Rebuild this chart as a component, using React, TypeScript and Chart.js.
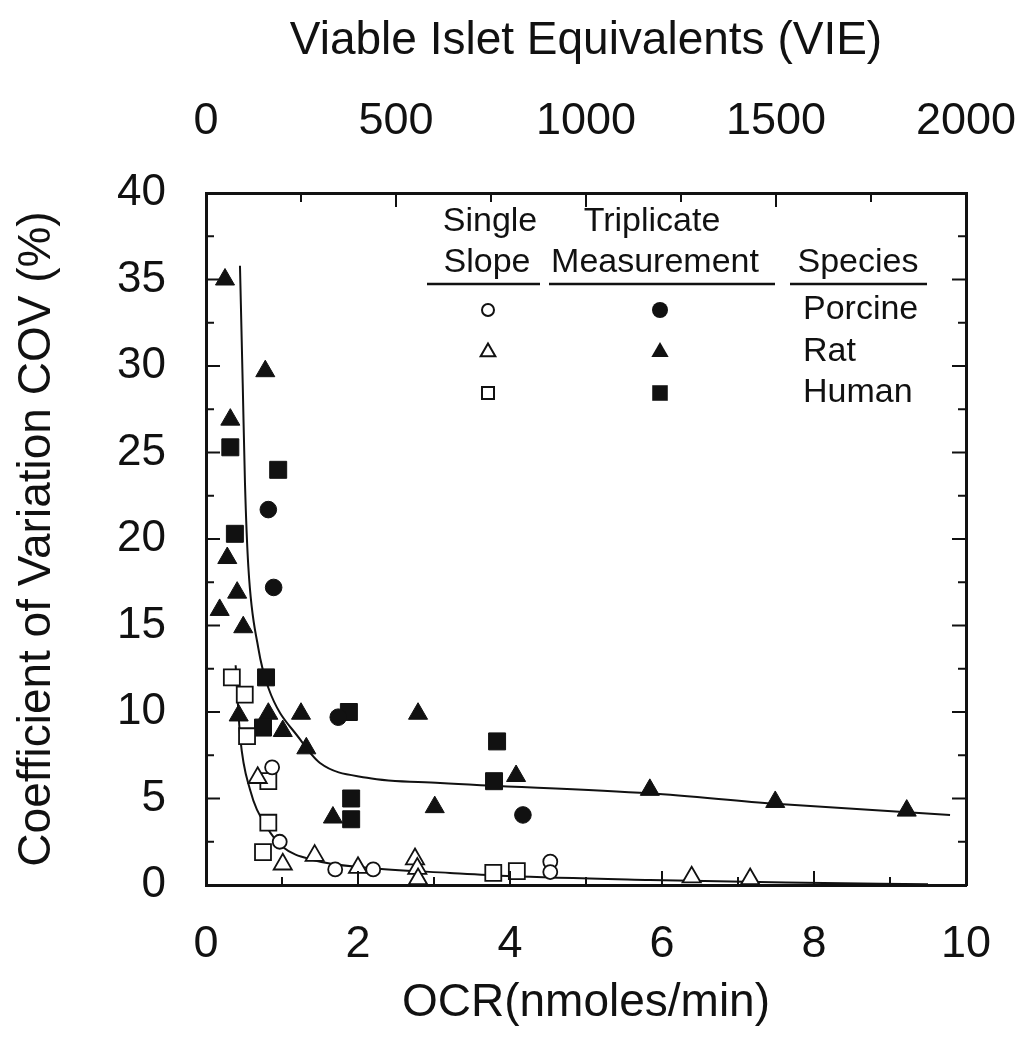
import React, { useEffect, useRef } from 'react';
import { Chart, registerables } from 'chart.js';

Chart.register(...registerables);

// ---- Data (OCR nmoles/min, COV %) ----
const porcineSingle: [number, number][] = [
  [0.87, 6.8], [0.97, 2.5], [1.7, 0.9], [2.2, 0.9], [4.53, 1.35], [4.53, 0.75],
];
const ratSingle: [number, number][] = [
  [0.68, 6.2], [1.01, 1.2], [1.43, 1.7], [2.0, 1.0], [2.75, 1.5], [2.78, 0.95],
  [2.79, 0.35], [6.39, 0.45], [7.16, 0.35],
];
const humanSingle: [number, number][] = [
  [0.34, 12.0], [0.51, 11.0], [0.54, 8.6], [0.82, 6.0], [0.82, 3.6], [0.75, 1.9],
  [3.78, 0.7], [4.09, 0.8],
];
const porcineTriplicate: [number, number][] = [
  [0.82, 21.7], [0.89, 17.2], [1.74, 9.7], [4.17, 4.05],
];
const ratTriplicate: [number, number][] = [
  [0.25, 35.0], [0.78, 29.7], [0.32, 26.9], [0.28, 18.9], [0.41, 16.9], [0.18, 15.9],
  [0.49, 14.9], [0.43, 9.8], [0.82, 9.9], [1.01, 8.9], [1.25, 9.9], [1.32, 7.9],
  [2.79, 9.9], [1.67, 3.9], [3.01, 4.5], [4.08, 6.3], [5.84, 5.5], [7.49, 4.8],
  [9.22, 4.3],
];
const humanTriplicate: [number, number][] = [
  [0.32, 25.3], [0.95, 24.0], [0.38, 20.3], [0.79, 12.0], [0.75, 9.1], [1.88, 10.0],
  [1.91, 5.0], [1.91, 3.8], [3.83, 8.3], [3.79, 6.0],
];
// Fitted curves
const triplicateFit: [number, number][] = [
  [0.447, 35.8], [0.483, 29.0], [0.513, 23.2], [0.557, 18.4], [0.688, 13.7],
  [0.82, 11.4], [1.24, 8.4], [1.5, 7.05], [2.12, 6.2], [3.08, 5.9], [5.84, 5.3],
  [7.49, 4.7], [9.79, 4.05],
];
const singleFit: [number, number][] = [
  [0.39, 12.7], [0.45, 8.55], [0.58, 5.5], [0.8, 3.35], [1.01, 2.2], [1.41, 1.45],
  [2.12, 1.0], [3.21, 0.7], [3.97, 0.52], [5.84, 0.29], [7.63, 0.14], [9.5, 0.05],
];

// ---- Axis ticks ----
const xLabelTicks = [0, 2, 4, 6, 8, 10];
const xAllTicks = [0, 1, 2, 3, 4, 5, 6, 7, 8, 9, 10];
const yLabelTicks = [0, 5, 10, 15, 20, 25, 30, 35, 40];
const yAllTicks = [0, 2.5, 5, 7.5, 10, 12.5, 15, 17.5, 20, 22.5, 25, 27.5, 30, 32.5, 35, 37.5, 40];
const vieLabelTicks = [0, 500, 1000, 1500, 2000];
const vieAllTicks = [0, 250, 500, 750, 1000, 1250, 1500, 1750, 2000];

// ---- Legend ----
const speciesNames = ['Porcine', 'Rat', 'Human'];
const speciesShapes = ['circle', 'triangle', 'rect'];

const INK = '#111';
const FONT = '"Liberation Sans", Arial, Helvetica, sans-serif';

const toPts = (a: [number, number][]) => a.map(([x, y]) => ({ x, y }));

function drawShape(ctx: CanvasRenderingContext2D, shape: string, x: number, y: number, size: number, filled: boolean) {
  ctx.beginPath();
  if (shape === 'circle') {
    ctx.arc(x, y, size, 0, Math.PI * 2);
  } else if (shape === 'triangle') {
    for (let i = 0; i < 3; i++) {
      const a = -Math.PI / 2 + (i * 2 * Math.PI) / 3;
      const px = x + Math.cos(a) * size;
      const py = y + Math.sin(a) * size;
      if (i === 0) ctx.moveTo(px, py); else ctx.lineTo(px, py);
    }
    ctx.closePath();
  } else {
    const h = size * Math.SQRT1_2;
    ctx.rect(x - h, y - h, 2 * h, 2 * h);
  }
  if (filled) {
    ctx.fillStyle = INK;
    ctx.fill();
  } else {
    ctx.fillStyle = '#fff';
    ctx.fill();
    ctx.lineWidth = 2;
    ctx.strokeStyle = INK;
    ctx.stroke();
  }
}

const frameTicksPlugin = {
  id: 'frameTicks',
  afterDatasetsDraw(chart: any) {
    const { ctx, chartArea: a, scales } = chart;
    ctx.save();
    ctx.strokeStyle = INK;
    ctx.lineWidth = 2;
    const seg = (x1: number, y1: number, x2: number, y2: number) => {
      ctx.beginPath();
      ctx.moveTo(x1, y1);
      ctx.lineTo(x2, y2);
      ctx.stroke();
    };
    xAllTicks.forEach((v) => {
      const px = scales.x.getPixelForValue(v);
      const len = xLabelTicks.includes(v) ? 14 : 8;
      seg(px, a.bottom, px, a.bottom - len);
    });
    vieAllTicks.forEach((v) => {
      const px = scales.x2.getPixelForValue(v);
      const len = vieLabelTicks.includes(v) ? 14 : 9;
      seg(px, a.top, px, a.top + len);
    });
    yAllTicks.forEach((v) => {
      const py = scales.y.getPixelForValue(v);
      const len = yLabelTicks.includes(v) ? 14 : 8;
      seg(a.left, py, a.left + len, py);
      seg(a.right, py, a.right - len, py);
    });
    ctx.restore();
  },
};

const legendPlugin = {
  id: 'speciesLegend',
  afterDraw(chart: any) {
    const ctx: CanvasRenderingContext2D = chart.ctx;
    ctx.save();
    ctx.fillStyle = INK;
    ctx.font = `34px ${FONT}`;
    ctx.textAlign = 'center';
    ctx.textBaseline = 'middle';
    ctx.fillText('Single', 490, 222);
    ctx.fillText('Slope', 487, 263);
    ctx.fillText('Triplicate', 652, 222);
    ctx.fillText('Measurement', 655, 263);
    ctx.fillText('Species', 858, 263);
    ctx.strokeStyle = INK;
    ctx.lineWidth = 2.5;
    const under = (x1: number, x2: number) => {
      ctx.beginPath();
      ctx.moveTo(x1, 284);
      ctx.lineTo(x2, 284);
      ctx.stroke();
    };
    under(427, 540);
    under(549, 775);
    under(790, 927);
    const rows = [310, 352, 393];
    const openSizes = [6, 8.5, 8.5];
    const filledSizes = [8, 10, 11];
    speciesNames.forEach((name, i) => {
      drawShape(ctx, speciesShapes[i], 488, rows[i], openSizes[i], false);
      drawShape(ctx, speciesShapes[i], 660, rows[i], filledSizes[i], true);
      ctx.fillStyle = INK;
      ctx.textAlign = 'left';
      ctx.fillText(name, 803, rows[i]);
    });
    ctx.restore();
  },
};

function pointSet(label: string, pts: [number, number][], shape: string, radius: number, filled: boolean) {
  return {
    type: 'scatter' as const,
    label,
    data: toPts(pts),
    pointStyle: shape,
    pointRadius: radius,
    pointHoverRadius: radius,
    pointBackgroundColor: filled ? INK : '#fff',
    pointBorderColor: INK,
    pointBorderWidth: filled ? 1 : 1.8,
    showLine: false,
    clip: false as any,
    order: 1,
    xAxisID: 'x',
    yAxisID: 'y',
  };
}

function curveSet(label: string, pts: [number, number][]) {
  return {
    type: 'line' as const,
    label,
    data: toPts(pts),
    borderColor: INK,
    borderWidth: 2,
    pointRadius: 0,
    pointHoverRadius: 0,
    fill: false,
    showLine: true,
    cubicInterpolationMode: 'monotone' as const,
    order: 10,
    xAxisID: 'x',
    yAxisID: 'y',
  };
}

const noPad = (s: any) => {
  s.paddingLeft = 0;
  s.paddingRight = 0;
  s.paddingTop = 0;
  s.paddingBottom = 0;
};

export default function App() {
  const ref = useRef<HTMLCanvasElement>(null);

  useEffect(() => {
    const canvas = ref.current;
    if (!canvas) return;
    Chart.defaults.font.family = FONT;
    Chart.defaults.color = INK;

    const chart = new Chart(canvas, {
      type: 'scatter',
      data: {
        datasets: [
          curveSet('Triplicate fit', triplicateFit),
          curveSet('Single fit', singleFit),
          pointSet('Porcine single', porcineSingle, 'circle', 7, false),
          pointSet('Rat single', ratSingle, 'triangle', 10.5, false),
          pointSet('Human single', humanSingle, 'rect', 11.3, false),
          pointSet('Porcine triplicate', porcineTriplicate, 'circle', 8.3, true),
          pointSet('Rat triplicate', ratTriplicate, 'triangle', 11, true),
          pointSet('Human triplicate', humanTriplicate, 'rect', 12, true),
        ] as any,
      },
      options: {
        animation: false,
        responsive: false,
        devicePixelRatio: 1,
        layout: { padding: 0 },
        plugins: {
          legend: { display: false },
          tooltip: { enabled: false },
          title: { display: false },
        },
        scales: {
          x: {
            type: 'linear',
            position: 'bottom',
            min: 0,
            max: 10,
            afterBuildTicks: (s: any) => { s.ticks = xLabelTicks.map((v) => ({ value: v })); },
            afterFit: (s: any) => { s.height = 165; noPad(s); },
            ticks: { font: { size: 45 }, padding: 33, color: INK, autoSkip: false, maxRotation: 0, callback: (v: any) => String(v) },
            grid: { display: false, drawTicks: false },
            border: { display: true, color: INK, width: 3 },
            title: { display: true, text: 'OCR(nmoles/min)', font: { size: 46 }, color: INK, padding: { top: 0, bottom: 19 } },
          },
          x2: {
            type: 'linear',
            position: 'top',
            min: 0,
            max: 2000,
            afterBuildTicks: (s: any) => { s.ticks = vieLabelTicks.map((v) => ({ value: v })); },
            afterFit: (s: any) => { s.height = 193; noPad(s); },
            ticks: { font: { size: 45 }, padding: 44, color: INK, autoSkip: false, maxRotation: 0, callback: (v: any) => String(v) },
            grid: { display: false, drawTicks: false },
            border: { display: true, color: INK, width: 3 },
            title: { display: true, text: 'Viable Islet Equivalents (VIE)', font: { size: 46 }, color: INK, padding: { top: 14, bottom: 0 } },
          },
          y: {
            type: 'linear',
            position: 'left',
            min: 0,
            max: 40,
            afterBuildTicks: (s: any) => { s.ticks = yLabelTicks.map((v) => ({ value: v })); },
            afterFit: (s: any) => { s.width = 206; noPad(s); },
            ticks: { font: { size: 44 }, padding: 40, color: INK, autoSkip: false, callback: (v: any) => String(v) },
            grid: { display: false, drawTicks: false },
            border: { display: true, color: INK, width: 3 },
            title: { display: true, text: 'Coefficient of Variation COV (%)', font: { size: 46 }, color: INK, padding: { top: 10, bottom: 0 } },
          },
          y2: {
            type: 'linear',
            position: 'right',
            min: 0,
            max: 40,
            afterFit: (s: any) => { s.width = 60; noPad(s); },
            ticks: { display: false },
            grid: { display: false, drawTicks: false },
            border: { display: true, color: INK, width: 3 },
          },
        },
      } as any,
      plugins: [frameTicksPlugin, legendPlugin],
    });
    return () => chart.destroy();
  }, []);

  return (
    <div style={{ position: 'fixed', left: 0, top: 0, width: 1026, height: 1050, background: '#fff' }}>
      <canvas ref={ref} width={1026} height={1050} style={{ width: 1026, height: 1050, display: 'block' }} />
    </div>
  );
}
